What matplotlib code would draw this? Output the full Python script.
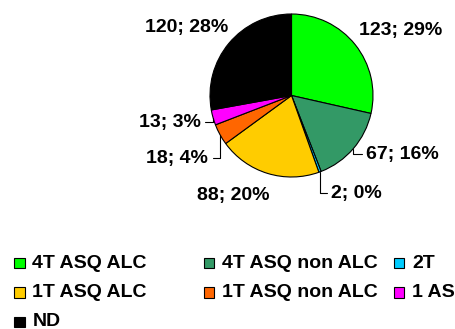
import matplotlib
matplotlib.use("Agg")
import matplotlib.pyplot as plt
from matplotlib.patches import Rectangle
import numpy as np

plt.rcParams['font.family'] = ['Liberation Sans', 'DejaVu Sans']
plt.rcParams['font.weight'] = 'bold'

# data
categories = ["4T ASQ ALC", "4T ASQ non ALC", "2T", "1T ASQ ALC",
              "1T ASQ non ALC", "1 AS", "ND"]
values = [123, 67, 2, 88, 18, 13, 120]
colors = ["#00FF00", "#339966", "#00CCFF", "#FFCC00", "#FF6600", "#FF00FF", "#000000"]

# label layout (pie radius units) and whether a leader line is drawn
label_pos = [(1.34, 0.80), (1.36, -0.72), (0.80, -1.20), (-0.71, -1.23),
             (-1.40, -0.77), (-1.49, -0.33), (-1.29, 0.84)]
leader = [False, True, True, False, True, True, False]

W, H = 456, 329
fig = plt.figure(figsize=(W / 100, H / 100), dpi=100)

# pie placed in pixel space: centre (291.5, 95.5), radius 81.5
cx, cy, r = 291.5, 95.5, 81.5
ax = fig.add_axes([(cx - r) / W, (H - cy - r) / H, 2 * r / W, 2 * r / H])
wedges, _ = ax.pie(values, colors=colors, startangle=90, counterclock=False,
                   radius=1, wedgeprops=dict(edgecolor="black", linewidth=0.8))
ax.set_xlim(-1, 1)
ax.set_ylim(-1, 1)
ax.set_aspect('equal')
ax.axis('off')

total = sum(values)
for w, v, pos, ld in zip(wedges, values, label_pos, leader):
    txt = f"{v}; {round(v / total * 100)}%"
    mid = np.deg2rad((w.theta1 + w.theta2) / 2)
    edge = (np.cos(mid), np.sin(mid))
    if ld:
        ax.annotate(txt, xy=edge, xytext=pos, ha='center', va='center',
                    fontsize=14, fontweight='bold', annotation_clip=False,
                    arrowprops=dict(arrowstyle='-', color='black', lw=0.8,
                                    shrinkA=1, shrinkB=0,
                                    connectionstyle="angle,angleA=0,angleB=90,rad=0"))
    else:
        ax.text(pos[0], pos[1], txt, ha='center', va='center',
                fontsize=14, fontweight='bold', clip_on=False)

# legend, row-major in 3 columns
col_x = [14, 204, 394]
row_y = [263, 292.5, 322]
box = 10.5
for i, (cat, c) in enumerate(zip(categories, colors)):
    row, col = divmod(i, 3)
    x, y = col_x[col], row_y[row]
    fig.patches.append(Rectangle((x / W, (H - y - box / 2) / H), box / W, box / H,
                                 facecolor=c, edgecolor='black', linewidth=0.8,
                                 transform=fig.transFigure))
    fig.text((x + 18.5) / W, (H - y) / H, cat, ha='left', va='center',
             fontsize=14, fontweight='bold')

fig.savefig("out.png", dpi=100)
